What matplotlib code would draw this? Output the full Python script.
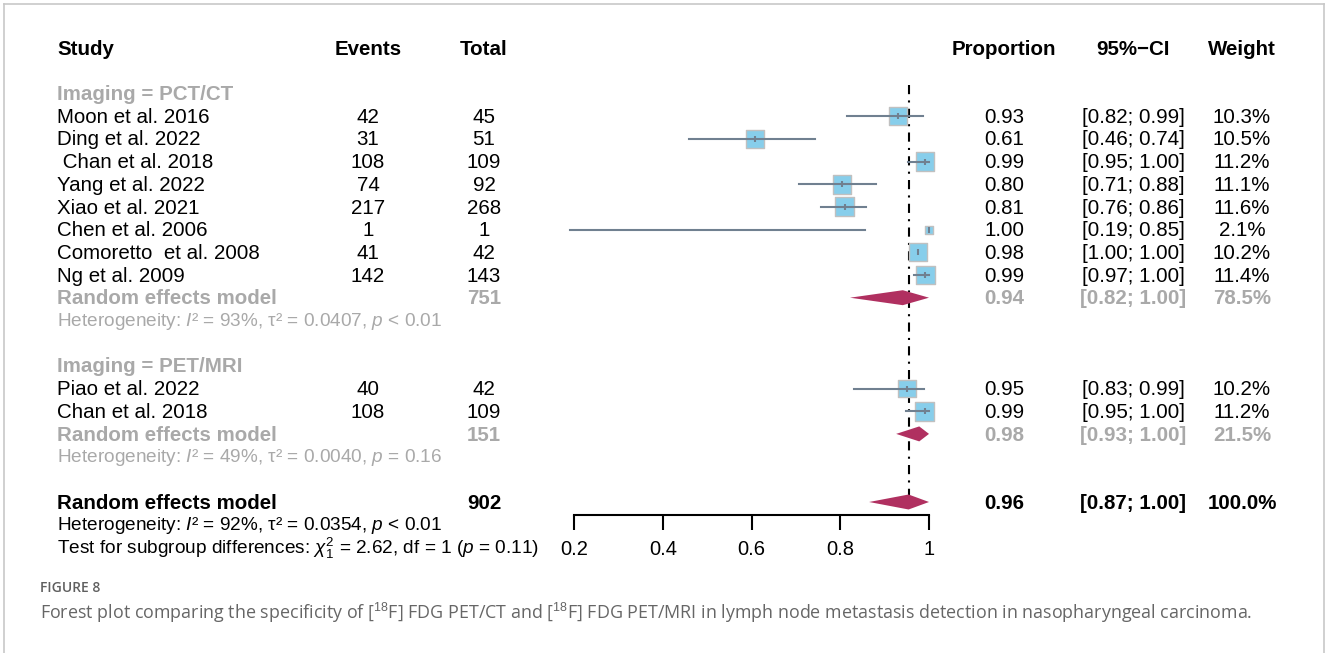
import matplotlib.pyplot as plt
from matplotlib import transforms
import numpy as np

plt.rcParams['font.family'] = ['Liberation Sans', 'DejaVu Sans']
plt.rcParams['mathtext.fontset'] = 'custom'
plt.rcParams['mathtext.rm'] = 'Liberation Sans'
plt.rcParams['mathtext.it'] = 'Liberation Sans:italic'
plt.rcParams['mathtext.bf'] = 'Liberation Sans:bold'

# subgroup 1 : PCT/CT
studies_ct = ["Moon et al. 2016", "Ding et al. 2022", " Chan et al. 2018", "Yang et al. 2022",
              "Xiao et al. 2021", "Chen et al. 2006", "Comoretto  et al. 2008", "Ng et al. 2009"]
events_ct = [42, 31, 108, 74, 217, 1, 41, 142]
total_ct = [45, 51, 109, 92, 268, 1, 42, 143]
est_ct = [0.930, 0.608, 0.991, 0.804, 0.810, 1.000, 0.976, 0.992]
lo_ct = [0.815, 0.459, 0.953, 0.707, 0.757, 0.190, 1.000, 0.966]
hi_ct = [0.986, 0.743, 1.000, 0.880, 0.858, 0.856, 1.000, 1.000]
prop_ct = ["0.93", "0.61", "0.99", "0.80", "0.81", "1.00", "0.98", "0.99"]
ci_ct = ["[0.82; 0.99]", "[0.46; 0.74]", "[0.95; 1.00]", "[0.71; 0.88]",
         "[0.76; 0.86]", "[0.19; 0.85]", "[1.00; 1.00]", "[0.97; 1.00]"]
weight_ct = [10.3, 10.5, 11.2, 11.1, 11.6, 2.1, 10.2, 11.4]

# subgroup 2 : PET/MRI
studies_mri = ["Piao et al. 2022", "Chan et al. 2018"]
events_mri = [40, 108]
total_mri = [42, 109]
est_mri = [0.950, 0.990]
lo_mri = [0.831, 0.948]
hi_mri = [0.989, 1.000]
prop_mri = ["0.95", "0.99"]
ci_mri = ["[0.83; 0.99]", "[0.95; 1.00]"]
weight_mri = [10.2, 11.2]

# pooled estimates (est, lo, hi) and labels
pooled_ct = (0.941, 0.822, 1.000)
pooled_mri = (0.978, 0.926, 1.000)
pooled_all = (0.954, 0.865, 1.000)
pooled_labels = {
    "ct": ("751", "0.94", "[0.82; 1.00]", "78.5%"),
    "mri": ("151", "0.98", "[0.93; 1.00]", "21.5%"),
    "all": ("902", "0.96", "[0.87; 1.00]", "100.0%"),
}
het_ct = "Heterogeneity: $I$\u00b2 = 93%, \u03c4\u00b2 = 0.0407, $p$ < 0.01"
het_mri = "Heterogeneity: $I$\u00b2 = 49%, \u03c4\u00b2 = 0.0040, $p$ = 0.16"
het_all = "Heterogeneity: $I$\u00b2 = 92%, \u03c4\u00b2 = 0.0354, $p$ < 0.01"
test_sub = r"Test for subgroup differences: $\chi^2_1$ = 2.62, df = 1 ($p$ = 0.11)"

xticks = [0.2, 0.4, 0.6, 0.8, 1.0]
xticklabels = ["0.2", "0.4", "0.6", "0.8", "1"]

W, H = 1328, 653
fig = plt.figure(figsize=(W / 100, H / 100), dpi=100)

# forest axes: one row = 22.7 px, header row at y=48 px
row_h = 22.7
ax = fig.add_axes([574 / W, 0, 355 / W, 1])
ax.set_xlim(0.2, 1.0)
ax.set_ylim((H - 48) / row_h, -48 / row_h)
ax.patch.set_visible(False)
for s in ["top", "left", "right"]:
    ax.spines[s].set_visible(False)
ax.spines["bottom"].set_position(("data", 20.57))
ax.spines["bottom"].set_linewidth(1.5)
ax.set_yticks([])
ax.set_xticks(xticks)
ax.set_xticklabels(xticklabels)
ax.tick_params(axis="x", direction="out", length=11, width=1.5, labelsize=14.5, pad=7)

tr = transforms.blended_transform_factory(fig.transFigure, ax.transData)
FS = 14.8
FS_NOTE = 13.7
GRAY = "#a9a9a9"

# column positions (px)
col_study = 57
col_events = 368
col_total = 484
col_prop = 1004
col_ci = 1133
col_w = 1242


def txt(x, row, s, ha="center", color="black", weight="normal", size=FS):
    ax.text(x / W, row + 0.05, s, transform=tr, ha=ha, va="center", fontsize=size,
            color=color, fontweight=weight, clip_on=False)


# header
txt(col_study, 0, "Study", ha="left", weight="bold")
txt(col_events, 0, "Events", weight="bold")
txt(col_total, 0, "Total", weight="bold")
txt(col_prop, 0, "Proportion", weight="bold")
txt(col_ci, 0, "95%\u2212CI", weight="bold")
txt(col_w, 0, "Weight", weight="bold")


def study_rows(first_row, studies, events, totals, est, lo, hi, props, cis, weights):
    rows = np.arange(first_row, first_row + len(studies))
    for r, st, ev, tot, p, c, w in zip(rows, studies, events, totals, props, cis, weights):
        txt(col_study, r, st, ha="left")
        txt(col_events, r, str(ev))
        txt(col_total, r, str(tot))
        txt(col_prop, r, p)
        txt(col_ci, r, c)
        txt(col_w, r, f"{w:.1f}%")
    side_pt = 5.6 * np.sqrt(np.array(weights)) * 0.72
    ax.scatter(est, rows, marker="s", s=side_pt ** 2, c="#87ceeb", edgecolors="#c0c0c0",
               linewidths=1.0, zorder=2, clip_on=False)
    lc = ax.hlines(rows, lo, hi, color="#708090", lw=1.5, zorder=3, clip_on=False)
    lc.set_capstyle("projecting")
    ax.scatter(est, rows, marker="|", s=22, color="#708090", linewidths=1.5, zorder=4,
               clip_on=False)


def diamond(row, pooled):
    e, l, h = pooled
    dh = 0.33
    ax.fill([l, e, h, e], [row, row - dh, row, row + dh], color="#b03060", lw=0,
            zorder=3, clip_on=False)


def pooled_row(row, key, color):
    tot, p, c, w = pooled_labels[key]
    txt(col_study, row, "Random effects model", ha="left", color=color, weight="bold")
    txt(col_total, row, tot, color=color, weight="bold")
    txt(col_prop, row, p, color=color, weight="bold")
    txt(col_ci, row, c, color=color, weight="bold")
    txt(col_w, row, w, color=color, weight="bold")


# PCT/CT
txt(col_study, 2, "Imaging = PCT/CT", ha="left", color=GRAY, weight="bold")
study_rows(3, studies_ct, events_ct, total_ct, est_ct, lo_ct, hi_ct, prop_ct, ci_ct, weight_ct)
pooled_row(11, "ct", GRAY)
diamond(11, pooled_ct)
txt(col_study, 12, het_ct, ha="left", color=GRAY, size=FS_NOTE)

# PET/MRI
txt(col_study, 14, "Imaging = PET/MRI", ha="left", color=GRAY, weight="bold")
study_rows(15, studies_mri, events_mri, total_mri, est_mri, lo_mri, hi_mri, prop_mri,
           ci_mri, weight_mri)
pooled_row(17, "mri", GRAY)
diamond(17, pooled_mri)
txt(col_study, 18, het_mri, ha="left", color=GRAY, size=FS_NOTE)

# overall
pooled_row(20, "all", "black")
diamond(20, pooled_all)
txt(col_study, 21, het_all, ha="left", size=FS_NOTE)
txt(col_study, 22, test_sub, ha="left", size=FS_NOTE)

# random effects reference line
ax.plot([pooled_all[0]] * 2, [1.63, 20.4], color="black", lw=1.5,
        linestyle=(0, (4.4, 3.0, 1.0, 3.0)), zorder=1, clip_on=False)

# caption
fig.text(40 / W, 1 - 588 / H, "FIGURE 8", fontsize=10, color="#5f5f5f",
         family="Open Sans", fontweight="semibold", va="center", ha="left")
fig.text(40 / W, 1 - 613 / H,
         "Forest plot comparing the specificity of [$^{18}$F] FDG PET/CT and [$^{18}$F] FDG PET/MRI "
         "in lymph node metastasis detection in nasopharyngeal carcinoma.",
         fontsize=12.9, color="#666666", family="Open Sans", va="center", ha="left")

# light frame around the figure
for xs, ys in [([4, 4], [4, H]), ([4, 1324], [4, 4]), ([1324, 1324], [4, H])]:
    fig.add_artist(plt.Line2D([x / W for x in xs], [1 - y / H for y in ys],
                              color="#c8c8c8", lw=1.2))

fig.savefig("out.png", dpi=100)
